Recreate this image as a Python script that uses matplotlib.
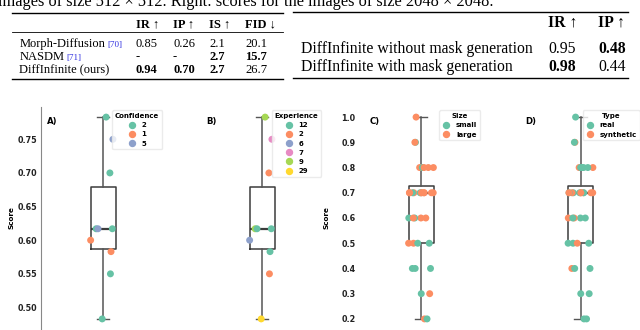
import matplotlib.pyplot as plt
import numpy as np
from matplotlib.lines import Line2D

W, H = 640, 330

# caption line, cut at the top of the crop
caption = "images of size 512 \u00d7 512. Right: scores for the images of size 2048 \u00d7 2048."

# left table
t1_header = ["IR \u2191", "IP \u2191", "IS \u2191", "FID \u2193"]
t1_methods = ["Morph-Diffusion", "NASDM", "DiffInfinite (ours)"]
t1_refs = ["[70]", "[71]", ""]
t1_values = [["0.85", "0.26", "2.1", "20.1"],
             ["-", "-", "2.7", "15.7"],
             ["0.94", "0.70", "2.7", "26.7"]]
t1_bold = [[0, 0, 0, 0], [0, 0, 1, 1], [1, 1, 1, 0]]

# right table
t2_header = ["IR \u2191", "IP \u2191"]
t2_methods = ["DiffInfinite without mask generation", "DiffInfinite with mask generation"]
t2_values = [["0.95", "0.48"], ["0.98", "0.44"]]
t2_bold = [[0, 1], [1, 0]]

# panels A/B: one score per rater
rater_score = [0.783, 0.75, 0.70, 0.617, 0.617, 0.617, 0.60, 0.583, 0.55, 0.483]
confidence = ["2", "5", "2", "2", "5", "2", "1", "1", "2", "2"]
experience = ["9", "7", "2", "9", "12", "12", "6", "12", "2", "29"]
confidence_order = ["2", "1", "5"]
experience_order = ["12", "2", "6", "7", "9", "29"]

# panels C/D: one score per image
image_score = [1.0, 0.9, 0.9,
               0.8, 0.8, 0.8, 0.8, 0.8, 0.8,
               0.7, 0.7, 0.7, 0.7, 0.7, 0.7, 0.7, 0.7, 0.7, 0.7, 0.7,
               0.6, 0.6, 0.6, 0.6, 0.6,
               0.5, 0.5, 0.5, 0.5,
               0.4, 0.4, 0.4, 0.3, 0.3, 0.2, 0.2]
image_size = ["large", "small", "large",
              "large", "large", "small", "large", "large", "large",
              "large", "large", "small", "large", "large", "large", "large", "small", "large", "large", "large",
              "large", "small", "small", "large", "large",
              "large", "small", "large", "small",
              "small", "small", "small", "small", "large", "large", "small"]
image_type = ["real", "synthetic", "real",
              "synthetic", "real", "real", "synthetic", "real", "real",
              "synthetic", "real", "synthetic", "synthetic", "real", "synthetic", "synthetic", "real", "synthetic", "real", "synthetic",
              "real", "synthetic", "synthetic", "real", "real",
              "real", "synthetic", "real", "real",
              "synthetic", "real", "real", "real", "real", "real", "real"]
size_order = ["small", "large"]
type_order = ["real", "synthetic"]

set2 = plt.get_cmap("Set2").colors
serif = ["Liberation Serif", "DejaVu Serif"]
box_c = "#3c3c3c"

plt.rcParams["font.family"] = ["DejaVu Sans"]
plt.rcParams["font.weight"] = "bold"
plt.rcParams["axes.labelweight"] = "bold"


def fx(x):
    return x / W


def fy(y):
    return 1 - y / H


fig = plt.figure(figsize=(W / 100, H / 100), dpi=100)
renderer = fig.canvas.get_renderer()

# ---- tables ----
fig.text(fx(-2), fy(5.5), caption, family=serif, weight="normal", size=11.8, va="baseline")


def rule(x0, x1, y, lw):
    fig.add_artist(Line2D([fx(x0), fx(x1)], [fy(y), fy(y)], lw=lw, color="black"))


rule(12, 283, 12.7, 1.0)
rule(12, 283, 31.7, 0.6)
rule(12, 283, 79, 1.0)
t1_x = [136, 173, 209, 245]
for j, h in enumerate(t1_header):
    fig.text(fx(t1_x[j]), fy(27), h, family=serif, weight="bold", size=9.0, va="baseline")
for i, m in enumerate(t1_methods):
    yb = fy(46.6 + 13.1 * i)
    t = fig.text(fx(19.3), yb, m, family=serif, weight="normal", size=9.0, va="baseline")
    if t1_refs[i]:
        bb = t.get_window_extent(renderer)
        fig.text(fx(bb.x1 + 2), yb, t1_refs[i], family=serif, weight="normal",
                 size=6.5, color="#3030e0", va="baseline")
    for j, v in enumerate(t1_values[i]):
        fig.text(fx(t1_x[j]), yb, v, family=serif, size=9.0, va="baseline",
                 weight="bold" if t1_bold[i][j] else "normal")

rule(293, 628, 11.7, 1.0)
rule(293, 628, 78.3, 1.0)
t2_x = [548, 598]
for j, h in enumerate(t2_header):
    fig.text(fx(t2_x[j]), fy(27), h, family=serif, weight="bold", size=11.3, va="baseline")
for i, m in enumerate(t2_methods):
    yb = fy(53.3 + 17.4 * i)
    fig.text(fx(301), yb, m, family=serif, weight="normal", size=11.3, va="baseline")
    for j, v in enumerate(t2_values[i]):
        fig.text(fx(t2_x[j]), yb, v, family=serif, size=11.3, va="baseline",
                 weight="bold" if t2_bold[i][j] else "normal")

# ---- box + strip panels ----
rng = np.random.default_rng(7)
jit_raters = rng.uniform(-0.1, 0.1, len(rater_score))
jit_images = rng.uniform(-0.1, 0.1, len(image_score))

lefts = [40.5, 199.5, 358.5, 518]
axes = [fig.add_axes([fx(l), 1 / H, 125 / W, 222 / H]) for l in lefts]


def panel(ax, scores, hue, order, jit, title):
    colors = [set2[order.index(h)] for h in hue]
    ax.scatter(jit, scores, s=25, c=colors, linewidths=0, zorder=3)
    ax.boxplot(scores, positions=[0], widths=0.2, showfliers=False, manage_ticks=False,
               boxprops=dict(color=box_c, lw=1.1),
               whiskerprops=dict(color="#555555", lw=1.1),
               capprops=dict(color="#555555", lw=1.0),
               medianprops=dict(color=box_c, lw=1.6))
    ax.set_xlim(-0.5, 0.5)
    ax.set_xticks([])
    for s in ax.spines.values():
        s.set_visible(False)
    ax.tick_params(axis="y", length=0, pad=2, labelsize=5.8, labelcolor="#222222")
    handles = [Line2D([], [], ls="", marker="o", ms=4.3, color=set2[i], label=lab)
               for i, lab in enumerate(order)]
    ax.legend(handles=handles, title=title, loc="upper right",
              prop=dict(weight="bold", size=5),
              title_fontproperties=dict(weight="bold", size=5),
              handlelength=1.2, handletextpad=0.8, labelspacing=0.45,
              borderpad=0.4, edgecolor="0.9")


panel(axes[0], rater_score, confidence, confidence_order, jit_raters, "Confidence")
panel(axes[1], rater_score, experience, experience_order, jit_raters, "Experience")
panel(axes[2], image_score, image_size, size_order, jit_images, "Size")
panel(axes[3], image_score, image_type, type_order, jit_images, "Type")

axes[1].set_ylim(axes[0].get_ylim())
axes[3].set_ylim(axes[2].get_ylim())
axes[0].set_yticks(np.arange(0.50, 0.76, 0.05))
axes[2].set_yticks(np.arange(0.2, 1.01, 0.1))
axes[0].yaxis.set_major_formatter("{x:.2f}")
axes[2].yaxis.set_major_formatter("{x:.1f}")
axes[1].tick_params(labelleft=False)
axes[3].tick_params(labelleft=False)
axes[0].spines["left"].set_visible(True)
axes[0].spines["left"].set_color("#888888")
axes[0].spines["left"].set_linewidth(0.8)

for ax, xl in [(axes[0], -0.205), (axes[2], -0.235)]:
    ax.set_ylabel("Score", fontsize=5.2)
    ax.yaxis.set_label_coords(xl, 0.5)

for lab, x in zip(["A)", "B)", "C)", "D)"], [46.5, 206, 370, 525]):
    fig.text(fx(x), fy(122), lab, size=6.2, weight="bold", va="center")

fig.savefig("out.png", dpi=100)
